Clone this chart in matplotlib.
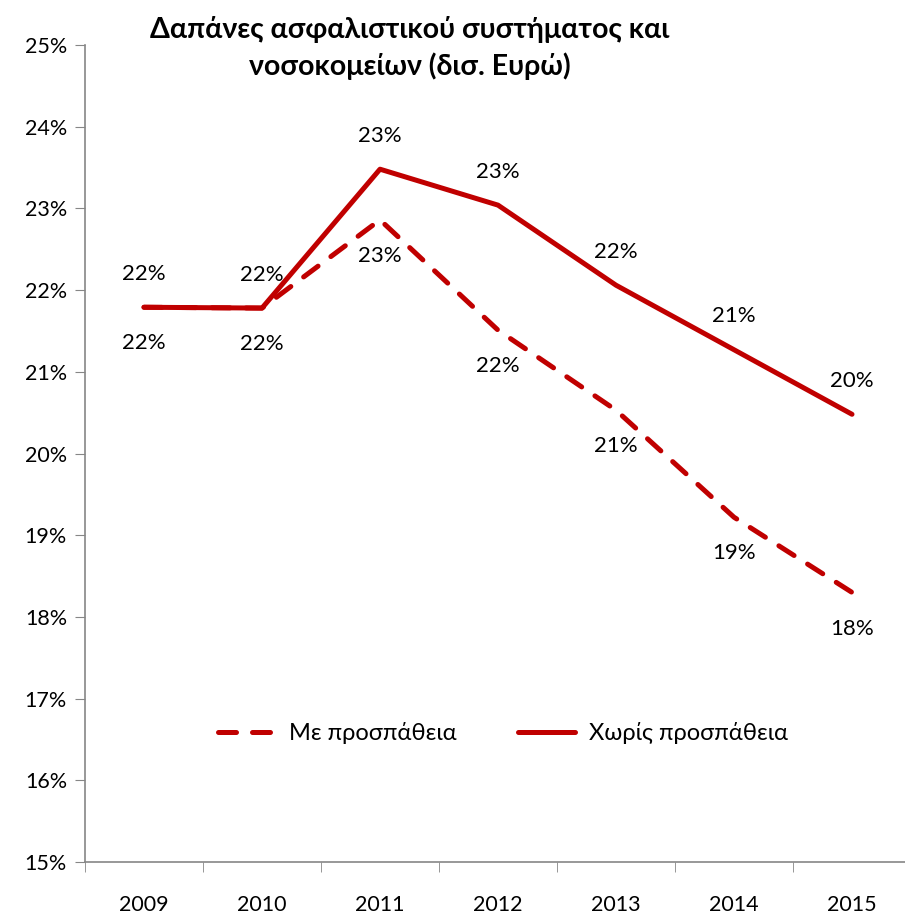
import matplotlib
matplotlib.use("Agg")
import matplotlib.pyplot as plt
from matplotlib.ticker import FuncFormatter

plt.rcParams['font.family'] = ['Lato', 'DejaVu Sans']

years = ['2009', '2010', '2011', '2012', '2013', '2014', '2015']
with_effort = [21.79, 21.78, 22.86, 21.51, 20.53, 19.22, 18.30]
without_effort = [21.79, 21.78, 23.48, 23.04, 22.06, 21.27, 20.48]

red = '#C00000'
grey = '#868686'

fig = plt.figure(figsize=(9.05, 9.16), dpi=100)
ax = fig.add_axes([85 / 905, 54 / 916, 826 / 905, 817 / 916])

x = list(range(len(years)))
ax.plot(x, with_effort, color=red, lw=3.6, ls=(0, (3.6, 3.2)),
        dash_capstyle='round', solid_joinstyle='round', label='Με προσπάθεια')
ax.plot(x, without_effort, color=red, lw=3.6, solid_capstyle='round',
        solid_joinstyle='round', label='Χωρίς προσπάθεια')

for i, v in enumerate(without_effort):
    ax.annotate(f'{v:.0f}%', (i, v), xytext=(0, 24), textcoords='offset points',
                ha='center', va='center', fontsize=16)
for i, v in enumerate(with_effort):
    ax.annotate(f'{v:.0f}%', (i, v), xytext=(0, -26), textcoords='offset points',
                ha='center', va='center', fontsize=16)

ax.set_xlim(-0.5, 6.5)
ax.set_ylim(15, 25)
ax.set_yticks(range(15, 26))
ax.yaxis.set_major_formatter(FuncFormatter(lambda v, p: f'{v:.0f}%'))
ax.set_xticks(x)
ax.set_xticklabels(years)
ax.set_xticks([i + 0.5 for i in range(-1, 7)], minor=True)
ax.tick_params(axis='x', which='major', length=0, pad=24, labelsize=15.5)
ax.tick_params(axis='x', which='minor', length=7, color=grey, direction='out')
ax.tick_params(axis='y', length=7, color=grey, labelsize=15.5, pad=6)

for s in ['top', 'right']:
    ax.spines[s].set_visible(False)
for s in ['left', 'bottom']:
    ax.spines[s].set_color(grey)
    ax.spines[s].set_linewidth(1.2)

fig.text(410 / 905, 1 - 48 / 916, 'Δαπάνες ασφαλιστικού συστήματος και\nνοσοκομείων (δισ. Ευρώ)',
         ha='center', va='center', fontsize=20.5, fontweight='bold', linespacing=1.45)

ax.legend(loc='center', bbox_to_anchor=(503 / 905, 1 - 733 / 916), bbox_transform=fig.transFigure,
          ncol=2, frameon=False, fontsize=17, handlelength=2.4, columnspacing=2.6,
          handletextpad=0.6)

fig.savefig('out.png', dpi=100)
